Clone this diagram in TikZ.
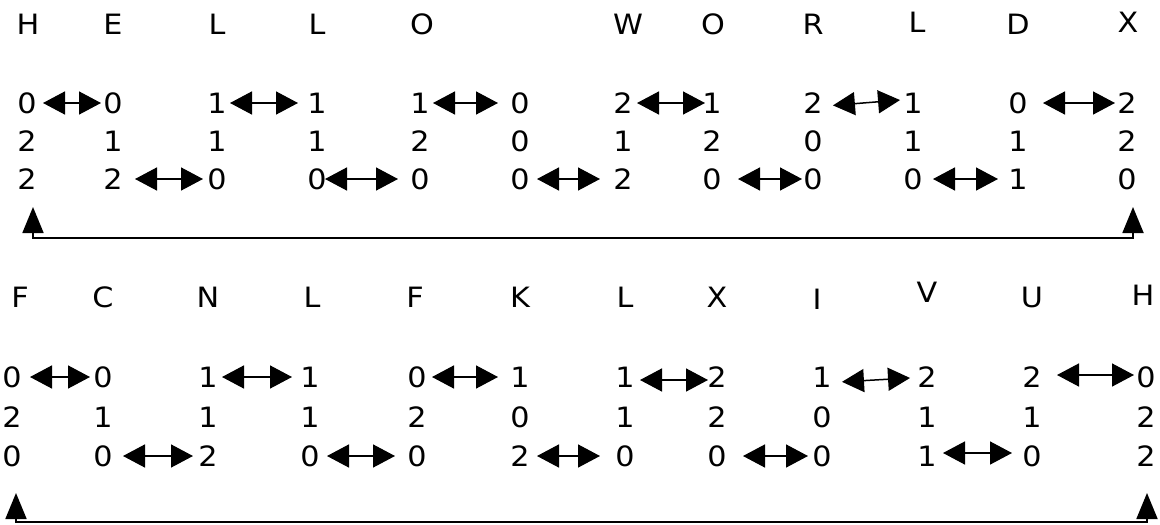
\documentclass[tikz,border=0pt]{standalone}
\usepackage{fontspec}
\newfontfamily\djsans{DejaVu Sans}
\usetikzlibrary{arrows.meta}
\newcommand\ww[1]{\scalebox{1.08}[1]{#1}}
\tikzset{
  t/.style={inner sep=0pt, font=\djsans\fontsize{28}{28}\selectfont},
  tip/.tip={Triangle[length=22pt,width=23pt]},
  dar/.style={line width=1.5pt, tip-tip},
  ftip/.tip={Triangle[length=26pt,width=21pt]},
  fb/.style={line width=1.8pt, ftip-ftip},
}
\newcommand\arr[4]{\draw[dar, shorten <=#3pt, shorten >=#4pt] (#1.center) -- (#2.center);}
\begin{document}
\begin{tikzpicture}[x=1pt,y=-1pt]
\useasboundingbox (0,0) rectangle (1160,525);
% ---- block 1 letters
\foreach \n/\x/\y/\s in {1/28/24/H, 2/113/24/E, 3/217/24/L, 4/317/24/L, 5/422/24/O,
  7/628/24/W, 8/713/24/O, 9/813/24/R, 10/917/22/L, 11/1018/24/D, 12/1128/22/X}
  \node[t] (a\n) at (\x,\y) {\ww{\s}};
% ---- block 1 digits
\foreach \n/\x/\u/\v/\w in {1/27/0/2/2, 2/113/0/1/2, 3/217/1/1/0, 4/317/1/1/0,
  5/420/1/2/0, 6/520/0/0/0, 7/623/2/1/2, 8/712/1/2/0, 9/813/2/0/0,
  10/913/1/1/0, 11/1018/0/1/1, 12/1127/2/2/0}{
  \node[t] (p\n a) at (\x,103) {\ww{\u}};
  \node[t] (p\n b) at (\x,141) {\ww{\v}};
  \node[t] (p\n c) at (\x,179) {\ww{\w}};
}
% ---- block 1 arrows
\arr{p1a}{p2a}{16}{12}
\arr{p3a}{p4a}{13}{19}
\arr{p5a}{p6a}{13}{22}
\arr{p7a}{p8a}{14}{7}
\draw[dar, shorten <=20pt, shorten >=13pt] ([yshift=-4pt]p9a.center) -- ([yshift=4pt]p10a.center);
\arr{p11a}{p12a}{25}{12}
\arr{p2c}{p3c}{22}{14}
\arr{p4c}{p5c}{8}{22}
\arr{p6c}{p7c}{17}{23}
\arr{p8c}{p9c}{26}{11}
\arr{p10c}{p11c}{20}{20}
% ---- block 1 feedback
\coordinate (fa1) at (33,238);
\coordinate (fa2) at (1133,238);
\coordinate (ta1) at (33,207);
\coordinate (ta2) at (1133,207);
\draw[fb] (ta1) -- (fa1) -- (fa2) -- (ta2);
% ---- block 2 letters
\foreach \n/\x/\y/\s in {1/20/297/F, 2/103/297/C, 3/208/297/N, 4/312/297/L, 5/415/297/F,
  6/520/297/K, 7/625/297/L, 8/717/297/X, 9/817/299/I, 10/927/292/V, 11/1032/297/U, 12/1143/295/H}
  \node[t] (b\n) at (\x,\y) {\ww{\s}};
% ---- block 2 digits
\foreach \n/\x/\u/\v/\w in {1/12/0/2/0, 2/103/0/1/0, 3/208/1/1/2, 4/310/1/1/0,
  5/417/0/2/0, 6/520/1/0/2, 7/625/1/1/0, 8/717/2/2/0, 9/822/1/0/0,
  10/927/2/1/1, 11/1032/2/1/0, 12/1146/0/2/2}{
  \node[t] (q\n a) at (\x,377) {\ww{\u}};
  \node[t] (q\n b) at (\x,417) {\ww{\v}};
  \node[t] (q\n c) at (\x,456) {\ww{\w}};
}
% ---- block 2 arrows
\arr{q1a}{q2a}{18}{13}
\arr{q3a}{q4a}{14}{18}
\arr{q5a}{q6a}{15}{22}
\draw[dar, shorten <=15pt, shorten >=9pt] ([yshift=-3pt]q7a.center) -- ([yshift=-3pt]q8a.center);
\draw[dar, shorten <=20pt, shorten >=17pt] ([yshift=-6pt]q9a.center) -- (q10a.center);
\draw[dar, shorten <=25pt, shorten >=12pt] ([yshift=2pt]q11a.center) -- ([yshift=2pt]q12a.center);
\arr{q2c}{q3c}{20}{15}
\arr{q4c}{q5c}{17}{22}
\arr{q6c}{q7c}{17}{25}
\arr{q8c}{q9c}{26}{14}
\draw[dar, shorten <=16pt, shorten >=20pt] ([yshift=3pt]q10c.center) -- ([yshift=3pt]q11c.center);
% ---- block 2 feedback
\coordinate (fb1) at (16,522);
\coordinate (fb2) at (1147,522);
\coordinate (tb1) at (16,493);
\coordinate (tb2) at (1147,493);
\draw[fb] (tb1) -- (fb1) -- (fb2) -- (tb2);
\end{tikzpicture}
\end{document}
